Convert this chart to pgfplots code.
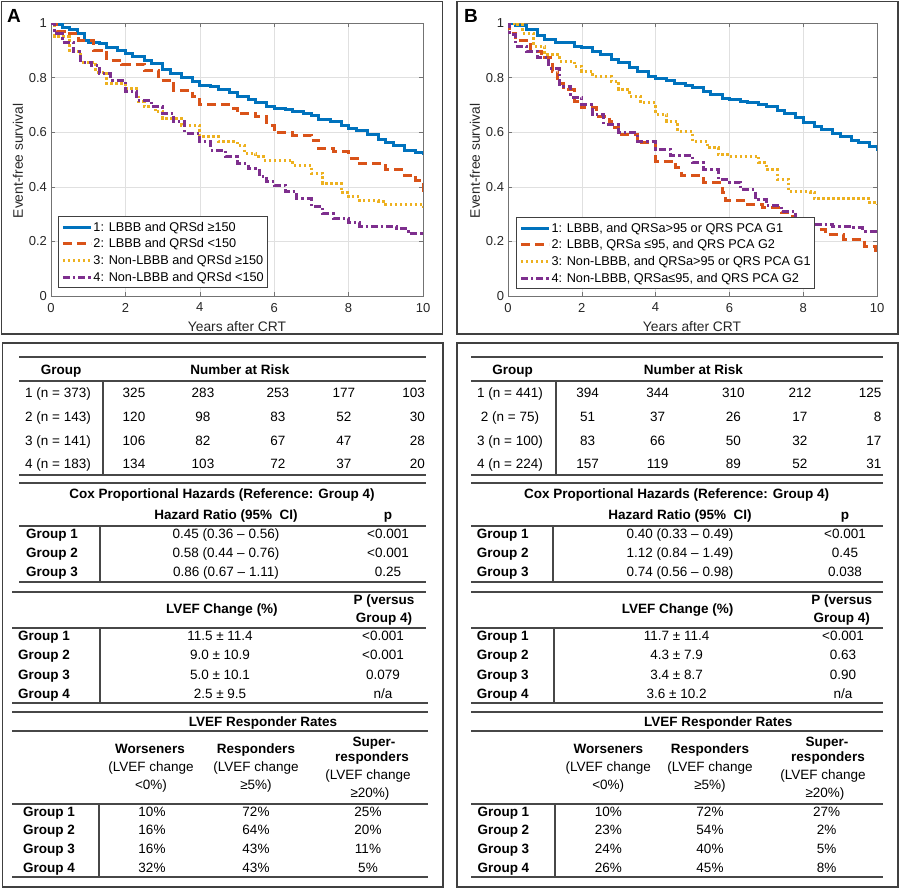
\documentclass[border=0pt]{standalone}
\usepackage{fontspec}
\setmainfont{Liberation Sans}
\usepackage{pgfplots}
\pgfplotsset{compat=1.18}
\definecolor{c1}{rgb}{0,0.447,0.741}
\definecolor{c2}{rgb}{0.85,0.325,0.098}
\definecolor{c3}{rgb}{0.929,0.694,0.125}
\definecolor{c4}{rgb}{0.494,0.184,0.556}
\newcommand{\tf}{\fontsize{13.5bp}{15bp}\selectfont}
\pgfplotsset{
  km/.style={
    anchor=north west, scale only axis, height=273bp,
    xmin=0, xmax=10, ymin=0, ymax=1,
    xtick={0,2,4,6,8,10}, xticklabels={0,2,4,6,8,10},
    ytick={0,0.2,0.4,0.6,0.8,1}, yticklabels={0,0.2,0.4,0.6,0.8,1},
    grid=major, major grid style={black!12, line width=0.6bp},
    axis line style={black!55, line width=0.8bp},
    tick style={black!55, line width=0.6bp}, tick align=inside, major tick length=4bp,
    ticklabel style={font=\fontsize{13bp}{15bp}\selectfont, text=black!85},
    xticklabel style={yshift=-3.5bp},
    yticklabel style={xshift=-0.5bp},
    legend cell align=left,
    legend image code/.code={\draw[line width=3bp, ##1] (0bp,0bp) -- (28bp,0bp);},
    legend style={font=\fontsize{12.7bp}{14bp}\selectfont, draw=black!75, line width=0.8bp,
      fill=white, inner xsep=3bp, inner ysep=2bp,
      nodes={inner sep=1bp, text height=11.3bp, text depth=3.4bp},
      /tikz/every even column/.append style={column sep=0bp}},
  },
  s1/.style={c1, solid, const plot, line width=3bp},
  s2/.style={c2, dash pattern=on 9bp off 5bp, const plot, line width=3bp},
  s3/.style={c3, dash pattern=on 2.4bp off 2.6bp, const plot, line width=3bp},
  s4/.style={c4, dash pattern=on 7bp off 3bp on 2.4bp off 3bp, const plot, line width=3bp},
}
\begin{document}
\begin{tikzpicture}
\useasboundingbox (0,0) rectangle (900bp,-889bp);
% ---------------- Panel A plot ----------------
\begin{axis}[km, at={(51bp,-23bp)}, width=372bp,
  legend style={at={(0.019,0.029)}, anchor=south west}]
\addplot[s1] coordinates {(0,1) (0.1,0.995) (0.3,0.985) (0.5,0.978) (0.7,0.96) (0.9,0.935) (1.0,0.928) (1.3,0.924) (1.5,0.912) (1.8,0.9) (2.0,0.888) (2.2,0.878) (2.5,0.862) (2.7,0.85) (3.0,0.828) (3.2,0.815) (3.5,0.8) (3.8,0.786) (4.0,0.772) (4.3,0.766) (4.5,0.756) (4.8,0.745) (5.0,0.73) (5.3,0.72) (5.5,0.71) (5.8,0.695) (6.0,0.688) (6.3,0.683) (6.5,0.677) (6.8,0.67) (7.0,0.66) (7.2,0.647) (7.5,0.64) (7.8,0.625) (8.0,0.613) (8.2,0.605) (8.5,0.59) (8.8,0.575) (9.0,0.562) (9.2,0.55) (9.5,0.534) (9.8,0.525) (10,0.515)};
\addlegendentry{1: LBBB and QRSd ≥150}
\addplot[s2] coordinates {(0,1) (0.16,0.97) (0.4,0.96) (0.75,0.937) (1.15,0.9) (1.5,0.863) (1.9,0.848) (2.5,0.827) (2.9,0.79) (3.3,0.754) (3.8,0.73) (4.0,0.70) (4.9,0.687) (5.0,0.668) (5.5,0.656) (5.8,0.626) (6.0,0.598) (6.5,0.589) (7.0,0.571) (7.2,0.54) (7.6,0.528) (8.0,0.504) (8.3,0.485) (9.0,0.463) (9.5,0.443) (9.8,0.424) (10,0.378)};
\addlegendentry{2: LBBB and QRSd <150}
\addplot[s3] coordinates {(0,1) (0.1,0.95) (0.5,0.894) (0.8,0.857) (1.2,0.82) (1.5,0.778) (2.0,0.76) (2.3,0.735) (2.35,0.711) (2.5,0.693) (2.8,0.674) (3.0,0.65) (3.5,0.626) (4.0,0.583) (4.5,0.565) (5.0,0.552) (5.2,0.522) (5.5,0.51) (5.7,0.498) (6.2,0.498) (6.5,0.479) (7.0,0.449) (7.3,0.412) (7.8,0.378) (8.0,0.363) (8.3,0.348) (8.8,0.345) (9.0,0.337) (9.8,0.337) (10,0.315)};
\addlegendentry{3: Non-LBBB and QRSd ≥150}
\addplot[s4] coordinates {(0,1) (0.1,0.96) (0.3,0.93) (0.6,0.894) (0.8,0.857) (1.1,0.845) (1.3,0.815) (1.6,0.79) (2.0,0.748) (2.3,0.717) (2.7,0.693) (3.0,0.668) (3.3,0.638) (3.6,0.595) (4.0,0.565) (4.3,0.534) (4.7,0.51) (5.0,0.485) (5.3,0.467) (5.6,0.437) (5.8,0.418) (6.0,0.406) (6.3,0.382) (6.6,0.357) (7.0,0.327) (7.3,0.302) (7.6,0.284) (8.0,0.268) (8.3,0.254) (9.0,0.254) (9.3,0.248) (9.6,0.229) (10,0.223)};
\addlegendentry{4: Non-LBBB and QRSd <150}
\end{axis}
% ---------------- Panel B plot ----------------
\begin{axis}[km, at={(508bp,-23bp)}, width=369bp,
  legend style={at={(0.022,0.026)}, anchor=south west}]
\addplot[s1] coordinates {(0,1) (0.2,0.99) (0.5,0.976) (0.8,0.955) (1.0,0.939) (1.3,0.93) (1.5,0.927) (1.8,0.915) (2.0,0.909) (2.3,0.895) (2.5,0.884) (2.8,0.868) (3.0,0.854) (3.3,0.836) (3.5,0.823) (3.8,0.805) (4.0,0.795) (4.3,0.788) (4.5,0.78) (4.8,0.77) (5.0,0.762) (5.3,0.748) (5.5,0.738) (5.8,0.725) (6.0,0.72) (6.3,0.714) (6.5,0.71) (6.8,0.702) (7.0,0.695) (7.3,0.68) (7.5,0.67) (7.8,0.655) (8.0,0.634) (8.3,0.62) (8.5,0.61) (8.8,0.595) (9.0,0.585) (9.3,0.57) (9.5,0.561) (9.8,0.548) (10,0.53)};
\addlegendentry{1: LBBB, and QRSa>95 or QRS PCA G1}
\addplot[s2] coordinates {(0,1) (0.05,0.963) (0.2,0.937) (0.6,0.896) (0.9,0.872) (1.2,0.823) (1.35,0.78) (1.5,0.756) (1.8,0.713) (2.0,0.689) (2.4,0.659) (2.75,0.64) (2.8,0.616) (3.0,0.591) (3.5,0.561) (4.0,0.494) (4.55,0.47) (4.7,0.441) (5.3,0.415) (5.8,0.378) (5.9,0.348) (6.5,0.335) (6.9,0.323) (7.4,0.305) (7.7,0.28) (8.25,0.244) (8.6,0.226) (9.1,0.207) (9.65,0.183) (9.95,0.165) (10,0.165)};
\addlegendentry{2: LBBB, QRSa ≤95, and QRS PCA G2}
\addplot[s3] coordinates {(0,1) (0.2,0.994) (0.4,0.963) (0.7,0.915) (1.0,0.884) (1.4,0.86) (1.8,0.841) (2.0,0.823) (2.3,0.805) (2.8,0.787) (3.0,0.756) (3.3,0.732) (3.6,0.707) (4.0,0.665) (4.3,0.64) (4.6,0.604) (5.0,0.567) (5.4,0.543) (5.7,0.518) (6.0,0.512) (6.5,0.512) (6.8,0.488) (7.0,0.463) (7.3,0.427) (7.6,0.384) (8.2,0.38) (8.3,0.356) (9.6,0.356) (9.8,0.341) (10,0.335)};
\addlegendentry{3: Non-LBBB, and QRSa>95 or QRS PCA G1}
\addplot[s4] coordinates {(0,1) (0.05,0.957) (0.2,0.915) (0.5,0.896) (0.8,0.872) (1.1,0.835) (1.4,0.768) (1.7,0.726) (2.0,0.701) (2.3,0.665) (2.6,0.628) (3.0,0.598) (3.5,0.567) (4.0,0.537) (4.4,0.515) (5.0,0.488) (5.3,0.463) (5.7,0.427) (6.0,0.417) (6.3,0.39) (6.7,0.354) (7.0,0.332) (7.4,0.311) (7.8,0.28) (8.2,0.262) (8.8,0.256) (9.3,0.25) (9.6,0.238) (10,0.232)};
\addlegendentry{4: Non-LBBB, QRSa≤95, and QRS PCA G2}
\end{axis}
% ---------------- frames, labels, tables ----------------
\begin{scope}[x=1bp, y=-1bp,
  t/.style={font=\tf, inner sep=0pt, text height=9.7bp, text depth=0pt},
  tb/.style={t, font=\tf\bfseries},
  r/.style={draw=black!72, line width=1.7bp},
  fr/.style={draw=black!75, line width=1.4bp}]
% frames
\draw[fr] (1.5,1.5) rectangle (442.5,334);
\draw[fr] (457,1.5) rectangle (898,334);
\draw[fr] (2.5,343) rectangle (443,887);
\draw[fr] (457,343) rectangle (898,887);
% panel letters & axis labels
\node[font=\fontsize{19bp}{20bp}\selectfont\bfseries, inner sep=0pt] at (14,16) {A};
\node[font=\fontsize{19bp}{20bp}\selectfont\bfseries, inner sep=0pt] at (471,16) {B};
\node[font=\fontsize{13.8bp}{15bp}\selectfont, text=black!85, inner sep=0pt] at (237,327) {Years after CRT};
\node[font=\fontsize{13.8bp}{15bp}\selectfont, text=black!85, inner sep=0pt] at (692,327) {Years after CRT};
\node[font=\fontsize{13.8bp}{15bp}\selectfont, text=black!85, inner sep=0pt, rotate=90] at (18,161) {Event-free survival};
\node[font=\fontsize{13.8bp}{15bp}\selectfont, text=black!85, inner sep=0pt, rotate=90] at (475,161) {Event-free survival};

% ================= TABLE A =================
\draw[r] (19,357)--(426,357); \draw[r] (19,381)--(426,381);
\draw[r] (103,381)--(103,475);
\draw[r] (19,475)--(426,475); \draw[r] (19,483)--(426,483);
\draw[r] (19,526)--(426,526); \draw[r] (100,526)--(100,582);
\draw[r] (19,582)--(426,582);
\draw[r] (12,592)--(426,592); \draw[r] (12,628)--(426,628);
\draw[r] (100,628)--(100,703);
\draw[r] (12,703)--(428,703); \draw[r] (12,712)--(428,712);
\draw[r] (12,731)--(428,731); \draw[r] (12,804)--(428,804);
\draw[r] (99,804)--(99,877); \draw[r] (12,877)--(428,877);
\node[tb] at (61,370) {Group};
\node[tb] at (240,370) {Number at Risk};
\node[t] at (58,393) {1 (n = 373)};
\node[t] at (58,417) {2 (n = 143)};
\node[t] at (58,440.7) {3 (n = 141)};
\node[t] at (58,464) {4 (n = 183)};
\node[t] at (134,393) {325}; \node[t] at (203,393) {283}; \node[t] at (278,393) {253}; \node[t] at (344,393) {177}; \node[t,anchor=east] at (425,393) {103};
\node[t] at (134,417) {120}; \node[t] at (203,417) {98}; \node[t] at (278,417) {83}; \node[t] at (344,417) {52}; \node[t,anchor=east] at (425,417) {30};
\node[t] at (134,440.7) {106}; \node[t] at (203,440.7) {82}; \node[t] at (278,440.7) {67}; \node[t] at (344,440.7) {47}; \node[t,anchor=east] at (425,440.7) {28};
\node[t] at (134,464) {134}; \node[t] at (203,464) {103}; \node[t] at (278,464) {72}; \node[t] at (344,464) {37}; \node[t,anchor=east] at (425,464) {20};
\node[tb] at (222,494) {Cox Proportional Hazards (Reference: Group 4)};
\node[tb] at (226,515) {Hazard Ratio (95\%~ CI)};
\node[tb] at (388,515) {p};
\node[tb,anchor=west] at (26,534) {Group 1}; \node[t] at (226,534) {0.45 (0.36 – 0.56)}; \node[t] at (388,534) {<0.001};
\node[tb,anchor=west] at (26,552.7) {Group 2}; \node[t] at (226,552.7) {0.58 (0.44 – 0.76)}; \node[t] at (388,552.7) {<0.001};
\node[tb,anchor=west] at (26,571.7) {Group 3}; \node[t] at (226,571.7) {0.86 (0.67 – 1.11)}; \node[t] at (388,571.7) {0.25};
\node[tb] at (222,609) {LVEF Change (\%)};
\node[tb] at (384,600) {P (versus};
\node[tb] at (384,618) {Group 4)};
\node[tb,anchor=west] at (18,636) {Group 1}; \node[t] at (220,636) {11.5 ± 11.4}; \node[t] at (383,636) {<0.001};
\node[tb,anchor=west] at (18,655) {Group 2}; \node[t] at (220,655) {9.0 ± 10.9}; \node[t] at (383,655) {<0.001};
\node[tb,anchor=west] at (18,674.7) {Group 3}; \node[t] at (220,674.7) {5.0 ± 10.1}; \node[t] at (383,674.7) {0.079};
\node[tb,anchor=west] at (18,694) {Group 4}; \node[t] at (220,694) {2.5 ± 9.5}; \node[t] at (383,694) {n/a};
\node[tb] at (263,722) {LVEF Responder Rates};
\node[tb] at (150,749) {Worseners}; \node[t] at (151,767) {(LVEF change}; \node[t] at (151,785) {<0\%)};
\node[tb] at (256,749) {Responders}; \node[t] at (256,767) {(LVEF change}; \node[t] at (256,785) {≥5\%)};
\node[tb] at (374,742) {Super-}; \node[tb] at (372,757) {responders}; \node[t] at (368,775) {(LVEF change}; \node[t] at (370,793) {≥20\%)};
\node[tb,anchor=west] at (23,812) {Group 1}; \node[t] at (152,812) {10\%}; \node[t] at (256,812) {72\%}; \node[t] at (368,812) {25\%};
\node[tb,anchor=west] at (23,830) {Group 2}; \node[t] at (152,830) {16\%}; \node[t] at (256,830) {64\%}; \node[t] at (368,830) {20\%};
\node[tb,anchor=west] at (23,849) {Group 3}; \node[t] at (152,849) {16\%}; \node[t] at (256,849) {43\%}; \node[t] at (368,849) {11\%};
\node[tb,anchor=west] at (23,868) {Group 4}; \node[t] at (152,868) {32\%}; \node[t] at (256,868) {43\%}; \node[t] at (368,868) {5\%};

% ================= TABLE B =================
\draw[r] (471,357)--(883,357); \draw[r] (471,381)--(883,381);
\draw[r] (555.7,381)--(555.7,475);
\draw[r] (471,475)--(883,475); \draw[r] (471,483)--(883,483);
\draw[r] (471,526)--(883,526); \draw[r] (552.7,526)--(552.7,582);
\draw[r] (471,582)--(883,582);
\draw[r] (471,592)--(883,592); \draw[r] (471,628)--(883,628);
\draw[r] (554,628)--(554,703);
\draw[r] (471,703)--(883,703); \draw[r] (471,712)--(883,712);
\draw[r] (471,731)--(883,731); \draw[r] (471,804)--(883,804);
\draw[r] (555,804)--(555,877); \draw[r] (471,877)--(883,877);
\node[tb] at (512.7,370) {Group};
\node[tb] at (693.3,370) {Number at Risk};
\node[t] at (510,393) {1 (n = 441)};
\node[t] at (510,417) {2 (n = 75)};
\node[t] at (510,440.7) {3 (n = 100)};
\node[t] at (510,464) {4 (n = 224)};
\node[t] at (587.7,393) {394}; \node[t] at (657.7,393) {344}; \node[t] at (733.3,393) {310}; \node[t] at (800,393) {212}; \node[t,anchor=east] at (881.7,393) {125};
\node[t] at (587.7,417) {51}; \node[t] at (657.7,417) {37}; \node[t] at (733.3,417) {26}; \node[t] at (800,417) {17}; \node[t,anchor=east] at (881.7,417) {8};
\node[t] at (587.7,440.7) {83}; \node[t] at (657.7,440.7) {66}; \node[t] at (733.3,440.7) {50}; \node[t] at (800,440.7) {32}; \node[t,anchor=east] at (881.7,440.7) {17};
\node[t] at (587.7,464) {157}; \node[t] at (657.7,464) {119}; \node[t] at (733.3,464) {89}; \node[t] at (800,464) {52}; \node[t,anchor=east] at (881.7,464) {31};
\node[tb] at (676.7,494) {Cox Proportional Hazards (Reference: Group 4)};
\node[tb] at (680,515) {Hazard Ratio (95\%~ CI)};
\node[tb] at (845,515) {p};
\node[tb,anchor=west] at (476.7,534) {Group 1}; \node[t] at (680,534) {0.40 (0.33 – 0.49)}; \node[t] at (845,534) {<0.001};
\node[tb,anchor=west] at (476.7,552.7) {Group 2}; \node[t] at (680,552.7) {1.12 (0.84 – 1.49)}; \node[t] at (845,552.7) {0.45};
\node[tb,anchor=west] at (476.7,571.7) {Group 3}; \node[t] at (680,571.7) {0.74 (0.56 – 0.98)}; \node[t] at (845,571.7) {0.038};
\node[tb] at (677.7,609) {LVEF Change (\%)};
\node[tb] at (841.7,600) {P (versus};
\node[tb] at (841.7,618) {Group 4)};
\node[tb,anchor=west] at (476.7,636) {Group 1}; \node[t] at (676.7,636) {11.7 ± 11.4}; \node[t] at (843,636) {<0.001};
\node[tb,anchor=west] at (476.7,655) {Group 2}; \node[t] at (676.7,655) {4.3 ± 7.9}; \node[t] at (843,655) {0.63};
\node[tb,anchor=west] at (476.7,674.7) {Group 3}; \node[t] at (676.7,674.7) {3.4 ± 8.7}; \node[t] at (843,674.7) {0.90};
\node[tb,anchor=west] at (476.7,694) {Group 4}; \node[t] at (676.7,694) {3.6 ± 10.2}; \node[t] at (843,694) {n/a};
\node[tb] at (718.3,722) {LVEF Responder Rates};
\node[tb] at (608.3,749) {Worseners}; \node[t] at (608.3,767) {(LVEF change}; \node[t] at (608.3,785) {<0\%)};
\node[tb] at (710,749) {Responders}; \node[t] at (710,767) {(LVEF change}; \node[t] at (710,785) {≥5\%)};
\node[tb] at (827,742) {Super-}; \node[tb] at (828,757) {responders}; \node[t] at (823,775) {(LVEF change}; \node[t] at (825,793) {≥20\%)};
\node[tb,anchor=west] at (477.3,812) {Group 1}; \node[t] at (608.3,812) {10\%}; \node[t] at (710,812) {72\%}; \node[t] at (826.7,812) {27\%};
\node[tb,anchor=west] at (477.3,830) {Group 2}; \node[t] at (608.3,830) {23\%}; \node[t] at (710,830) {54\%}; \node[t] at (826.7,830) {2\%};
\node[tb,anchor=west] at (477.3,849) {Group 3}; \node[t] at (608.3,849) {24\%}; \node[t] at (710,849) {40\%}; \node[t] at (826.7,849) {5\%};
\node[tb,anchor=west] at (477.3,868) {Group 4}; \node[t] at (608.3,868) {26\%}; \node[t] at (710,868) {45\%}; \node[t] at (826.7,868) {8\%};
\end{scope}
\end{tikzpicture}
\end{document}
